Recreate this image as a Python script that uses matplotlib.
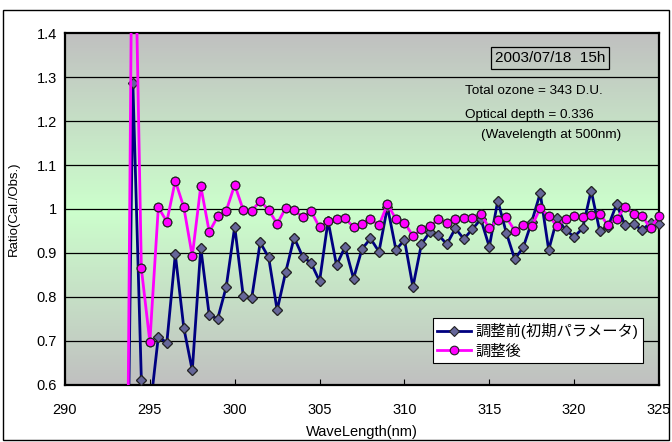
import numpy as np
import matplotlib
matplotlib.use("Agg")
import matplotlib.pyplot as plt
from matplotlib.colors import LinearSegmentedColormap
from matplotlib.patches import Rectangle

plt.rcParams['font.family'] = ['Liberation Sans', 'Noto Sans CJK JP']

# wavelength grid (nm), 0.5 nm step
wl = np.arange(293.5, 325.01, 0.5)

# ratio before adjustment (initial parameters)
before = [-0.20, 1.286, 0.611, 0.54, 0.710, 0.696, 0.897, 0.730, 0.633, 0.912,
          0.758, 0.751, 0.823, 0.960, 0.803, 0.797, 0.924, 0.890, 0.770, 0.856,
          0.935, 0.892, 0.877, 0.836, 0.973, 0.872, 0.914, 0.842, 0.909, 0.933,
          0.903, 1.005, 0.907, 0.930, 0.823, 0.920, 0.948, 0.941, 0.920, 0.956,
          0.932, 0.954, 0.977, 0.914, 1.019, 0.946, 0.886, 0.913, 0.971, 1.036,
          0.907, 0.979, 0.952, 0.937, 0.956, 1.042, 0.951, 0.960, 1.011, 0.963,
          0.966, 0.952, 0.969, 0.967]

# ratio after adjustment
after = [-0.50, 1.90, 0.865, 0.698, 1.004, 0.971, 1.064, 1.004, 0.893, 1.052,
         0.948, 0.983, 0.996, 1.055, 0.998, 0.996, 1.018, 0.998, 0.966, 1.002,
         0.998, 0.981, 0.995, 0.958, 0.973, 0.977, 0.979, 0.959, 0.966, 0.977,
         0.963, 1.011, 0.977, 0.969, 0.939, 0.954, 0.961, 0.977, 0.969, 0.977,
         0.979, 0.979, 0.989, 0.956, 0.975, 0.981, 0.951, 0.963, 0.961, 1.002,
         0.984, 0.961, 0.977, 0.984, 0.982, 0.986, 0.989, 0.963, 0.978, 1.004,
         0.989, 0.984, 0.956, 0.984]

xticks = [290, 295, 300, 305, 310, 315, 320, 325]
yticks = [0.6, 0.7, 0.8, 0.9, 1.0, 1.1, 1.2, 1.3, 1.4]
ytick_labels = ['0.6', '0.7', '0.8', '0.9', '1', '1.1', '1.2', '1.3', '1.4']

fig = plt.figure(figsize=(6.72, 4.42), dpi=100)
ax = fig.add_axes([0.0967, 0.129, 0.884, 0.7963])
ymin, ymax = 0.6, 1.4

# gray -> light green -> gray plot area fill
cmap = LinearSegmentedColormap.from_list('bg', ['#c0c0c0', '#ccffcc', '#c0c0c0'])
grad = np.linspace(0, 1, 256).reshape(-1, 1)
ax.imshow(grad, cmap=cmap, aspect='auto', extent=[0, 1, 0, 1],
          transform=ax.transAxes, zorder=0)

for y in yticks[1:-1]:
    ax.axhline(y, color='black', lw=0.9, zorder=1)

series = [
    (before, '#000080', 'D', 5.5, '#666699', '調整前(初期パラメータ)', 2),
    (after, '#ff00ff', 'o', 6.2, '#ff00ff', '調整後', 4),
]
for vals, col, mk, ms, mfc, lab, z in series:
    vals = np.array(vals)
    ax.plot(wl, vals, color=col, lw=2, marker=mk, ms=ms, mfc=mfc,
            mec='#222222', mew=0.8, zorder=z, label=lab)
    # markers that sit on the plot edge are drawn whole
    shown = np.ma.masked_outside(vals, ymin, ymax)
    ax.plot(wl, shown, ls='none', marker=mk, ms=ms, mfc=mfc,
            mec='#222222', mew=0.8, zorder=z + 1, clip_on=False)

ax.set_xlim(290, 325)
ax.set_ylim(ymin, ymax)
ax.set_xticks(xticks)
ax.set_yticks(yticks)
ax.set_yticklabels(ytick_labels)
ax.tick_params(axis='x', direction='in', length=4, labelsize=10.5, pad=13)
ax.tick_params(axis='y', direction='in', length=0, labelsize=10.5, pad=6)
for s in ax.spines.values():
    s.set_linewidth(1.6)
    s.set_color('black')

ax.set_xlabel('WaveLength(nm)', fontsize=10.5, labelpad=6)
ax.set_ylabel('Ratio(Cal./Obs.)', fontsize=9.5, labelpad=12)

ax.text(0.817, 0.929, '2003/07/18  15h', transform=ax.transAxes, fontsize=11,
        ha='center', va='center',
        bbox=dict(boxstyle='square,pad=0.25', fc='none', ec='black', lw=0.9))
ax.text(0.674, 0.836, 'Total ozone = 343 D.U.', transform=ax.transAxes,
        fontsize=9.7, ha='left', va='center')
ax.text(0.674, 0.768, 'Optical depth = 0.336', transform=ax.transAxes,
        fontsize=9.7, ha='left', va='center')
ax.text(0.700, 0.710, '(Wavelength at 500nm)', transform=ax.transAxes,
        fontsize=9.7, ha='left', va='center')

handles, labels = ax.get_legend_handles_labels()
leg = ax.legend(handles[:2], labels[:2], loc='lower left',
                bbox_to_anchor=(0.619, 0.0625), fontsize=11,
                frameon=True, fancybox=False, framealpha=1, edgecolor='black',
                handlelength=2.2, handletextpad=0.3, borderpad=0.3,
                labelspacing=0.35, borderaxespad=0)
leg.get_frame().set_linewidth(0.8)
leg.set_zorder(10)

# outer chart border
fig.patches.append(Rectangle((0.004, 0.004), 0.992, 0.974, transform=fig.transFigure,
                             fill=False, ec='black', lw=1.0))

fig.savefig('out.png', dpi=100)
